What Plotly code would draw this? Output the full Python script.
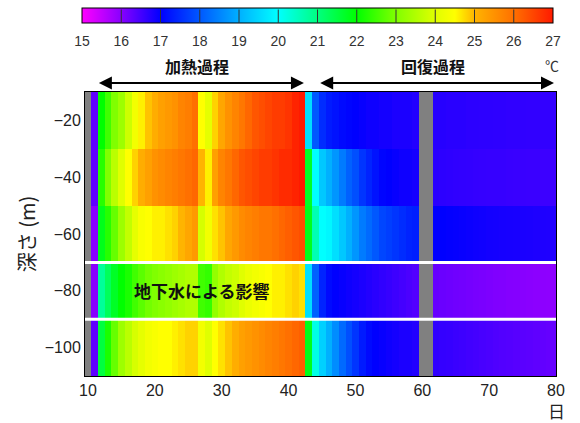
import plotly.graph_objects as go

# ---- data -------------------------------------------------------------
days = list(range(10, 81))                 # measurement days
depths = [-20, -40, -60, -80, -100]        # depth (m)

temp_20m = ([None, 16.3] +
            [22.0, 22.5, 23.0, 23.3, 23.8, 24.3, 24.6, 24.9, 25.1, 25.3, 25.4, 25.5, 25.7, 25.8, 26.0,
             24.5, 24.1, 24.8, 25.2, 25.5, 25.7, 25.9, 26.1, 26.3, 26.4, 26.5, 26.6, 26.6, 26.7, 26.9, 27.0] +
            [19.6, 18.0, 17.5, 17.3, 17.2, 17.1, 17.05, 17.0, 16.95, 16.9, 16.9, 16.85, 16.85, 16.8, 16.8, 16.8, 16.75] +
            [None, None] +
            [16.72, 16.72, 16.7, 16.7, 16.7, 16.68, 16.68, 16.67, 16.67, 16.66, 16.66, 16.65, 16.65, 16.65,
             16.64, 16.64, 16.63, 16.63, 16.62])

temp_40m = ([None, 16.3] +
            [22.3, 23.0, 23.6, 24.0, 24.5, 24.8, 25.1, 25.3, 25.5, 25.6, 25.7, 25.8, 25.9, 26.0, 26.1,
             25.0, 24.6, 25.3, 25.7, 25.9, 26.1, 26.3, 26.4, 26.5, 26.6, 26.6, 26.7, 26.8, 26.8, 26.9, 27.0] +
            [21.7, 20.0, 19.3, 19.0, 18.7, 18.4, 18.1, 17.9, 17.6, 17.4, 17.2, 17.05, 17.0, 16.95, 16.9, 16.9, 16.85] +
            [None, None] +
            [16.7, 16.68, 16.66, 16.65, 16.64, 16.63, 16.62, 16.61, 16.6, 16.6, 16.6, 16.59, 16.58, 16.58,
             16.57, 16.57, 16.56, 16.56, 16.55])

temp_60m = ([None, 16.0] +
            [21.8, 22.3, 22.8, 23.3, 23.7, 24.1, 24.4, 24.5, 24.6, 24.6, 24.7, 24.8, 25.0, 25.2, 25.4,
             23.9, 24.3, 24.7, 24.9, 25.2, 25.4, 25.6, 25.7, 25.8, 25.9, 25.9, 26.0, 26.1, 26.2, 26.3, 26.4] +
            [21.8, 20.6, 20.0, 19.9, 19.6, 19.3, 19.0, 18.7, 18.4, 18.2, 18.0, 17.8, 17.7, 17.6, 17.5, 17.4, 17.35] +
            [None, None] +
            [17.0, 17.0, 16.98, 16.96, 16.94, 16.92, 16.9, 16.88, 16.86, 16.85, 16.84, 16.83, 16.82, 16.81,
             16.8, 16.79, 16.78, 16.77, 16.76])

temp_80m = ([None, 16.0] +
            [20.8, 21.3, 21.7, 22.0, 22.2, 22.5, 22.7, 22.9, 23.0, 23.1, 23.2, 23.3, 23.4, 23.5, 23.5,
             22.5, 22.4, 23.2, 23.5, 23.7, 23.8, 24.0, 24.2, 24.3, 24.4, 24.5, 24.6, 24.6, 24.7, 24.8, 24.7] +
            [19.6, 18.1, 17.4, 17.1, 17.0, 16.95, 16.9, 16.85, 16.8, 16.75, 16.7, 16.65, 16.6, 16.55, 16.5, 16.45, 16.4] +
            [None, None] +
            [16.25, 16.22, 16.2, 16.18, 16.16, 16.14, 16.12, 16.1, 16.08, 16.06, 16.05, 16.03, 16.02, 16.0,
             15.98, 15.97, 15.96, 15.95, 15.95])

temp_100m = ([None, 16.3] +
             [21.5, 22.2, 22.8, 23.3, 23.6, 23.9, 24.1, 24.3, 24.4, 24.5, 24.5, 24.6, 24.7, 24.8, 24.8,
              24.3, 24.0, 24.5, 24.7, 24.9, 25.1, 25.3, 25.4, 25.5, 25.6, 25.7, 25.8, 25.9, 26.0, 26.1, 26.2] +
             [21.8, 20.2, 19.4, 19.0, 18.6, 18.2, 17.9, 17.6, 17.3, 17.1, 17.0, 16.95, 16.9, 16.85, 16.8, 16.8, 16.75] +
             [None, None] +
             [16.65, 16.62, 16.6, 16.57, 16.55, 16.52, 16.5, 16.47, 16.45, 16.42, 16.4, 16.38, 16.36, 16.34,
              16.32, 16.3, 16.28, 16.26, 16.25])

cbar_ticks = list(range(15, 28))
heat_span = (11.4, 42.3)       # 加熱過程 arrow (days)
recover_span = (44.5, 79.7)    # 回復過程 arrow (days)
boundaries = [-70, -90]        # white separator depths

# ---- colour scale (15–27 ℃) -------------------------------------------
tmin, tmax = 15, 27
stops = [(15, "#ff00ff"), (16, "#8800ff"), (17, "#0000ff"), (18, "#0058ff"), (19, "#00b0ff"),
         (20, "#00ffff"), (21, "#00ff80"), (22, "#00ff00"), (23, "#80ff00"), (24, "#e0ff00"),
         (24.5, "#ffff00"), (25, "#ffb400"), (26, "#ff7000"), (27, "#ff1a00")]
colorscale = [[(v - tmin) / (tmax - tmin), c] for v, c in stops]

z = [temp_20m, temp_40m, temp_60m, temp_80m, temp_100m]

FONT = "Liberation Sans, Arial, Noto Sans CJK JP"
CJK = "Noto Sans CJK JP, Liberation Sans"

# colour-bar geometry (paper units; plot area is 471 x 284 px)
CB_X0, CB_X1 = -3 / 471, 468 / 471
CB_TOP, CB_BOT = 1 + 84 / 284, 1 + 69 / 284
CB_THICK = 15

fig = go.Figure(go.Heatmap(
    x=days, y=depths, z=z, zmin=tmin, zmax=tmax, colorscale=colorscale,
    hoverongaps=False,
    colorbar=dict(
        orientation="h", x=(CB_X0 + CB_X1) / 2, xanchor="center", y=CB_TOP, yanchor="top",
        len=471, lenmode="pixels", thickness=CB_THICK, xpad=0, ypad=0,
        outlinecolor="black", outlinewidth=1,
        tickvals=cbar_ticks, ticks="outside", ticklen=6, tickcolor="rgba(0,0,0,0)",
        tickfont=dict(family=FONT, size=14, color="#333"),
    ),
))

fig.update_layout(
    width=580, height=423,
    margin=dict(l=85, r=24, t=92, b=47, autoexpand=False),
    paper_bgcolor="white", plot_bgcolor="#808080",
    font=dict(family=FONT, color="#222"),
    showlegend=False,
)
fig.update_xaxes(range=[9.55, 80], tickvals=list(range(10, 81, 10)), ticks="",
                 showgrid=False, zeroline=False, showline=True, mirror=True,
                 linecolor="black", linewidth=1,
                 tickfont=dict(family=FONT, size=16, color="#222"))
fig.update_yaxes(range=[-110, -10], tickvals=depths, ticks="",
                 showgrid=False, zeroline=False, showline=True, mirror=True,
                 linecolor="black", linewidth=1,
                 tickfont=dict(family=FONT, size=16, color="#222"),
                 title=dict(text="深さ (m)", font=dict(family=CJK, size=20, color="#222"), standoff=3))

# white separator lines between depth layers
for yb in boundaries:
    fig.add_shape(type="line", xref="paper", x0=0, x1=1, yref="y", y0=yb, y1=yb,
                  line=dict(color="white", width=3))

# dark dividers inside the colour bar at each integer temperature (drawn above the bar)
for v in cbar_ticks[1:-1]:
    xp = CB_X0 + (CB_X1 - CB_X0) * (v - tmin) / (tmax - tmin)
    fig.add_annotation(x=xp, y=CB_BOT, xref="paper", yref="paper", ax=0, ay=-CB_THICK,
                       text="", showarrow=True, arrowhead=0, arrowwidth=1, arrowcolor="#333",
                       standoff=0, startstandoff=0)

for a, b in (heat_span, recover_span):
    fig.add_annotation(x=b, y=1, xref="x", yref="paper", ax=a, ay=0,
                       axref="x", ayref="pixel", text="", showarrow=True, yshift=9,
                       arrowside="end+start", arrowhead=2, arrowsize=1.3, arrowwidth=2,
                       arrowcolor="black")

labels = [("加熱過程", sum(heat_span) / 2 - 0.5), ("回復過程", sum(recover_span) / 2 - 0.5)]
for txt, xd in labels:
    fig.add_annotation(x=xd, y=1, xref="x", yref="paper", yanchor="middle", yshift=26,
                       text=f"<b>{txt}</b>", showarrow=False,
                       font=dict(family=CJK, size=16, color="#111"))

fig.add_annotation(x=27.1, y=-80, xref="x", yref="y", text="<b>地下水による影響</b>",
                   showarrow=False, font=dict(family=CJK, size=17, color="#111"))
fig.add_annotation(x=1, y=1, xref="paper", yref="paper", xanchor="center", yanchor="middle",
                   xshift=-4, yshift=27, text="℃", showarrow=False,
                   font=dict(family=CJK, size=14, color="#333"))
fig.add_annotation(x=1, y=0, xref="paper", yref="paper", xanchor="center", yanchor="middle",
                   yshift=-34, text="日", showarrow=False,
                   font=dict(family=CJK, size=17, color="#222"))

fig.write_html("out.html", config={"displayModeBar": False},
               post_script="document.body.style.margin='0';")
